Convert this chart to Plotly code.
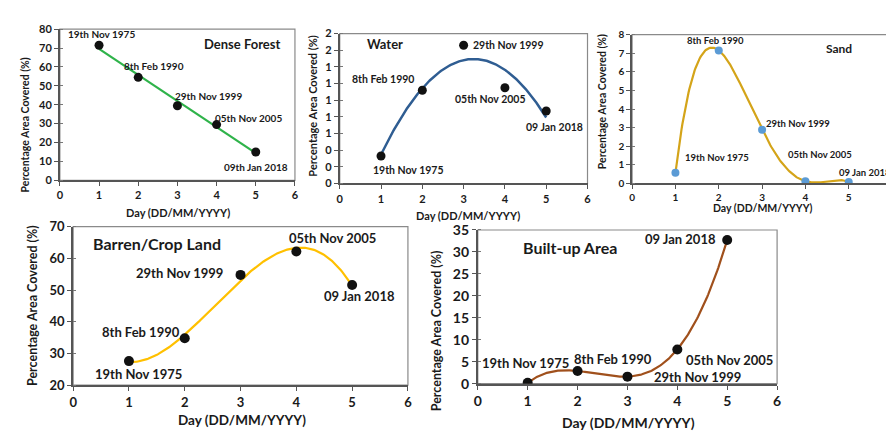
import numpy as np
import plotly.graph_objects as go

# ---------------- data ----------------
days = [1, 2, 3, 4, 5]
dates = ["19th Nov 1975", "8th Feb 1990", "29th Nov 1999", "05th Nov 2005", "09 Jan 2018"]
dates_forest = ["19th Nov 1975", "8th Feb 1990", "29th Nov 1999", "05th Nov 2005", "09th Jan 2018"]

dense_forest = [71.5, 54.5, 39.5, 29.5, 15.0]
water = [0.33, 1.12, 1.66, 1.15, 0.87]
sand = [0.57, 7.15, 2.89, 0.12, 0.08]
barren = [27.6, 34.8, 54.8, 62.2, 51.6]
builtup = [0.2, 2.9, 1.6, 7.8, 32.7]

titles = ["Dense Forest", "Water", "Sand", "Barren/Crop Land", "Built-up Area"]
fit_degree = [1, 2, 4, 3, 4]

x_ticks = [0, 1, 2, 3, 4, 5, 6]
forest_ticks = [0, 10, 20, 30, 40, 50, 60, 70, 80]
water_ticks = [0, 0.2, 0.4, 0.6, 0.8, 1.0, 1.2, 1.4, 1.6, 1.8]
sand_ticks = [0, 1, 2, 3, 4, 5, 6, 7, 8]
barren_ticks = [20, 30, 40, 50, 60, 70]
built_ticks = [0, 5, 10, 15, 20, 25, 30, 35]

FONT = "Lato"
TXT = "#1a1a1a"
W, H = 894, 432


def px(xp):
    return xp / W


def py(yp):
    return 1 - yp / H


panels = [
    dict(series=dense_forest, labels=dates_forest, ticks=forest_ticks, ticktext=None,
         xdom=[48.3, 285.5], ydom=[170, 12.7], yr=[0, 80], line="#2fb34a", lw=2.2,
         mcolor="#111111", msize=9, tick_fs=11, lab_fs=10,
         shifts=[(2, 11), (16, 11), (31, 10), (32, 7), (0, -15.5)],
         title_pos=(232, 28.3), title_fs=13,
         xt=(167, 203, 11), yt=(13, 112, 10.5)),
    dict(series=water, labels=dates, ticks=water_ticks,
         ticktext=[f"{v:.0f}" for v in water_ticks],
         xdom=[330.7, 580.7], ydom=[173.3, 17.3], yr=[0, 1.8], line="#2f5d92", lw=2.5,
         mcolor="#111111", msize=9, tick_fs=11, lab_fs=10.5,
         shifts=[(27.5, -14), (-39, 11), (45, 0), (-14, -11), (8.5, -16)],
         title_pos=(376, 27.7), title_fs=13,
         xt=(460, 207, 11), yt=(303, 93, 11)),
    dict(series=sand, labels=dates, ticks=sand_ticks, ticktext=None,
         xdom=[625.7, 888], ydom=[173.3, 18.3], yr=[0, 8], line="#d4a419", lw=2.2,
         mcolor="#5b9bd5", msize=8, tick_fs=10, lab_fs=9.5,
         shifts=[(41.5, 15.6), (-3, 10), (35.6, 6), (15, 27), (16.5, 9.4)],
         title_pos=(834, 32.3), title_fs=12,
         xt=(758, 199, 10.5), yt=(595, 88, 10.5)),
    dict(series=barren, labels=dates, ticks=barren_ticks, ticktext=None,
         xdom=[61.7, 399.5], ydom=[383.3, 218.3], yr=[20, 70], line="#ffc000", lw=2.2,
         mcolor="#111111", msize=10, tick_fs=13, lab_fs=13,
         shifts=[(9.5, -13.3), (-44, 6), (-61.4, 2), (36.3, 13.3), (7, -11)],
         title_pos=(146, 236), title_fs=16,
         xt=(232, 420, 13.5), yt=(20, 300, 12.5)),
    dict(series=builtup, labels=dates, ticks=built_ticks, ticktext=None,
         xdom=[470, 772], ydom=[381.7, 221.7], yr=[0, 35], line="#a0501c", lw=2.2,
         mcolor="#111111", msize=10, tick_fs=14, lab_fs=13,
         shifts=[(-2.5, 20), (35, 11.7), (70, -0.6), (52, -10.7), (-47, 1.5)],
         title_pos=(563, 240), title_fs=16,
         xt=(622, 422, 14), yt=(428, 327, 12.5)),
]

fig = go.Figure()
annotations = []
shapes = []
layout = {}

xfine = np.linspace(1, 5, 200)

for i, p in enumerate(panels):
    n = i + 1
    xa = "x" if n == 1 else f"x{n}"
    ya = "y" if n == 1 else f"y{n}"
    xkey = "xaxis" if n == 1 else f"xaxis{n}"
    ykey = "yaxis" if n == 1 else f"yaxis{n}"

    coeffs = np.polyfit(days, p["series"], fit_degree[i])
    yfit = np.polyval(coeffs, xfine)
    fig.add_trace(go.Scatter(x=xfine, y=yfit, mode="lines", xaxis=xa, yaxis=ya,
                             line=dict(color=p["line"], width=p["lw"]),
                             hoverinfo="skip", showlegend=False))
    fig.add_trace(go.Scatter(x=days, y=p["series"], mode="markers", xaxis=xa, yaxis=ya,
                             marker=dict(color=p["mcolor"], size=p["msize"]),
                             showlegend=False))

    layout[xkey] = dict(domain=[px(p["xdom"][0]), px(p["xdom"][1])], range=[0, 6],
                        anchor=ya, tickvals=x_ticks, showgrid=False, zeroline=False,
                        showline=True, linecolor="#555555", linewidth=1.8,
                        ticks="outside", ticklen=4, tickcolor="#555555",
                        tickfont=dict(family=FONT, size=p["tick_fs"], color=TXT, weight="bold"),
                        fixedrange=True)
    ydict = dict(domain=[py(p["ydom"][0]), py(p["ydom"][1])], range=p["yr"],
                 anchor=xa, tickvals=p["ticks"], showgrid=False, zeroline=False,
                 showline=True, linecolor="#555555", linewidth=1.8,
                 ticks="outside", ticklen=4, tickcolor="#555555",
                 minor=dict(ticks="inside", ticklen=3, nticks=2, tickcolor="#777777"),
                 tickfont=dict(family=FONT, size=p["tick_fs"], color=TXT, weight="bold"),
                 fixedrange=True)
    if p["ticktext"] is not None:
        ydict["ticktext"] = p["ticktext"]
    layout[ykey] = ydict

    shapes.append(dict(type="rect", xref=f"{xa} domain", yref=f"{ya} domain",
                       x0=0, x1=1, y0=0, y1=1, line=dict(color="#8a8a8a", width=1.2),
                       layer="below"))

    for xv, yv, lab, (dx, dy) in zip(days, p["series"], p["labels"], p["shifts"]):
        annotations.append(dict(x=xv, y=yv, xref=xa, yref=ya, text=lab, showarrow=False,
                                xshift=dx, yshift=dy,
                                font=dict(family=FONT, size=p["lab_fs"], color=TXT, weight="bold")))

    tx, ty = p["title_pos"]
    annotations.append(dict(x=px(tx), y=py(ty), xref="paper", yref="paper", text=titles[i],
                            showarrow=False, xanchor="center", yanchor="middle",
                            font=dict(family=FONT, size=p["title_fs"], color=TXT, weight="bold")))
    ax_x, ax_y, ax_fs = p["xt"]
    annotations.append(dict(x=px(ax_x), y=py(ax_y), xref="paper", yref="paper",
                            text="Day (DD/MM/YYYY)", showarrow=False,
                            xanchor="center", yanchor="middle",
                            font=dict(family=FONT, size=ax_fs, color=TXT, weight="bold")))
    ay_x, ay_y, ay_fs = p["yt"]
    annotations.append(dict(x=px(ay_x), y=py(ay_y), xref="paper", yref="paper",
                            text="Percentage Area Covered (%)", showarrow=False, textangle=-90,
                            xanchor="center", yanchor="middle",
                            font=dict(family=FONT, size=ay_fs, color=TXT, weight="bold")))

fig.update_layout(width=W, height=H, margin=dict(l=0, r=0, t=0, b=0),
                  paper_bgcolor="white", plot_bgcolor="white",
                  annotations=annotations, shapes=shapes, showlegend=False, **layout)

fig.write_html("out.html")
